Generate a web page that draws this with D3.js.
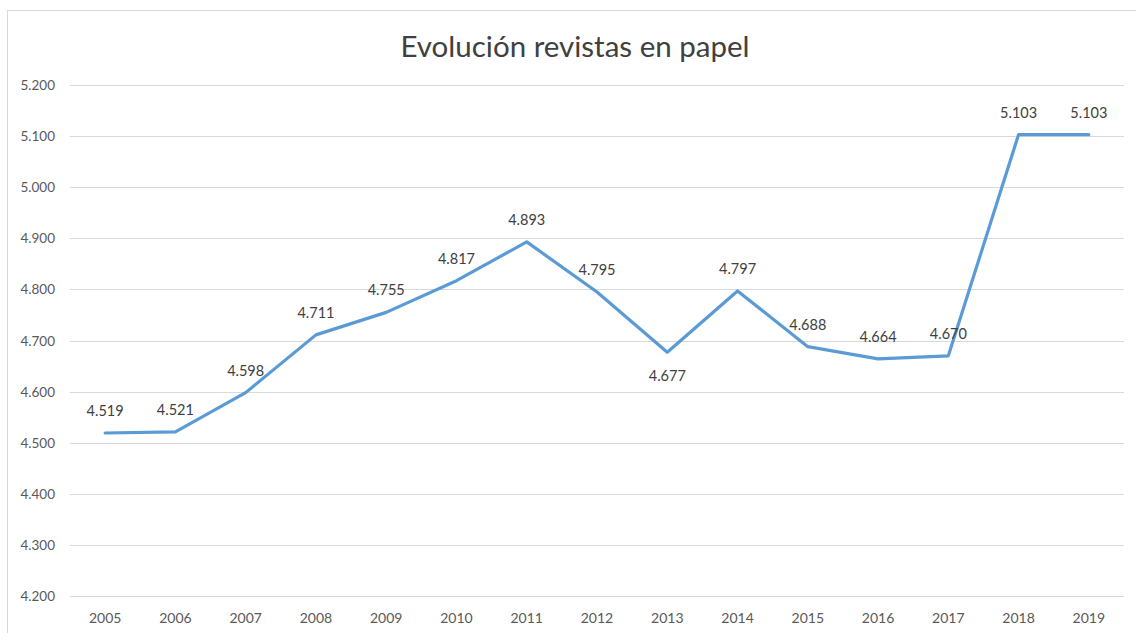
<!DOCTYPE html>
<html>
<head>
<meta charset="utf-8">
<script src="https://cdn.jsdelivr.net/npm/d3@7"></script>
<style>
  body { margin: 0; background: #fff; }
  svg text { font-family: Lato, "Open Sans", sans-serif; }
</style>
</head>
<body>
<svg id="chart" width="1136" height="633"></svg>
<script>
// data
var years = ['2005','2006','2007','2008','2009','2010','2011','2012','2013','2014','2015','2016','2017','2018','2019'];
var values = [4.519, 4.521, 4.598, 4.711, 4.755, 4.817, 4.893, 4.795, 4.677, 4.797, 4.688, 4.664, 4.670, 5.103, 5.103];
var yTicks = [4.2, 4.3, 4.4, 4.5, 4.6, 4.7, 4.8, 4.9, 5.0, 5.1, 5.2];
var belowLabels = ['2013'];

var svg = d3.select('#chart');

// chart frame
svg.append('rect').attr('x', 7.5).attr('y', 10.5).attr('width', 1140).attr('height', 640)
    .attr('fill', 'none').attr('stroke', '#d9d9d9');

var x = d3.scaleBand().domain(years).range([70, 1124]);
var y = d3.scaleLinear().domain([4.2, 5.2]).range([596, 85]);

svg.append('text').attr('x', 575).attr('y', 57).attr('text-anchor', 'middle')
    .attr('font-size', 29.5).attr('fill', '#404040').text('Evolución revistas en papel');

// gridlines
svg.append('g').selectAll('line').data(yTicks).enter().append('line')
    .attr('x1', 70).attr('x2', 1124)
    .attr('y1', function(d) { return Math.round(y(d)) + 0.5; })
    .attr('y2', function(d) { return Math.round(y(d)) + 0.5; })
    .attr('stroke', '#d9d9d9').attr('stroke-width', 1);

// y labels
svg.append('g').selectAll('text').data(yTicks).enter().append('text')
    .attr('x', 55).attr('y', function(d) { return y(d) + 5; })
    .attr('text-anchor', 'end').attr('font-size', 13.5).attr('fill', '#595959')
    .text(function(d) { return d3.format('.3f')(d); });

// x labels
svg.append('g').selectAll('text').data(years).enter().append('text')
    .attr('x', function(d) { return x(d) + x.bandwidth() / 2; }).attr('y', 623)
    .attr('text-anchor', 'middle').attr('font-size', 14).attr('fill', '#595959')
    .text(function(d) { return d; });

var pts = years.map(function(yr, i) { return { year: yr, v: values[i] }; });

var line = d3.line()
    .x(function(d) { return x(d.year) + x.bandwidth() / 2; })
    .y(function(d) { return y(d.v); });

svg.append('path').datum(pts).attr('d', line)
    .attr('fill', 'none').attr('stroke', '#5b9bd5').attr('stroke-width', 3.2)
    .attr('stroke-linejoin', 'round').attr('stroke-linecap', 'round');

// data labels
svg.append('g').selectAll('text').data(pts).enter().append('text')
    .attr('x', function(d) { return x(d.year) + x.bandwidth() / 2; })
    .attr('y', function(d) {
        return belowLabels.indexOf(d.year) >= 0 ? y(d.v) + 29 : y(d.v) - 17;
    })
    .attr('text-anchor', 'middle').attr('font-size', 14.5).attr('fill', '#404040')
    .text(function(d) { return d3.format('.3f')(d.v); });
</script>
</body>
</html>
